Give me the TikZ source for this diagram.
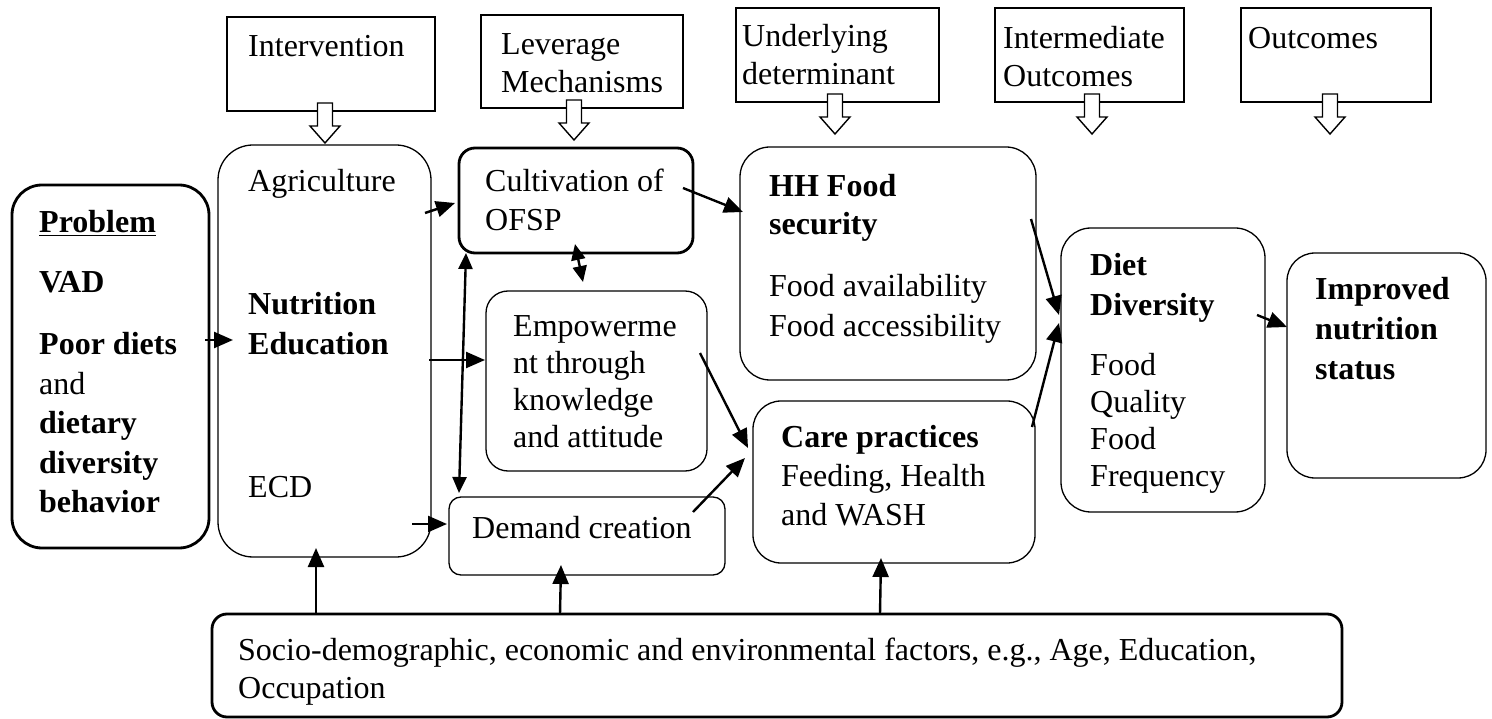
\documentclass[tikz,border=0pt]{standalone}
\usepackage{fontspec}
\setmainfont{Liberation Serif}
\usetikzlibrary{arrows.meta,calc}

% left-aligned block of lines whose baseline is the first line's baseline
\newcommand\linestack[2]{\vtop{\baselineskip=#1pt\lineskiplimit=-\maxdimen\halign{##\hfil\cr#2\crcr}}}

% hollow block arrow hanging below a header box: #1 node, #2 horizontal offset
\newcommand\blockarrow[2]{%
  \draw[blockarr] ($(#1.south)+(#2-7.5,-8)$) -- ++(15,0) -- ++(0,23) -- ++(7.5,0)
    -- ++(-15,17) -- ++(-15,-17) -- ++(7.5,0) -- cycle;}

\tikzset{
  hdr/.style={draw, line width=1.3pt, inner sep=0, outer sep=0},
  rbox/.style={draw, line width=1.3pt, inner sep=0, outer sep=0, rounded corners=#1},
  tbox/.style={draw, line width=2.8pt, inner sep=0, outer sep=0, rounded corners=#1},
  txt/.style={inner sep=0, anchor=base west},
  blockarr/.style={draw, line width=1.4pt, fill=white, line join=miter},
  arr/.style={line width=2.4pt, -{Triangle[length=19pt,width=16pt]}},
  darr/.style={line width=2.4pt, {Triangle[length=16pt,width=14pt]}-{Triangle[length=16pt,width=14pt]}},
}

\begin{document}
\begin{tikzpicture}[x=1pt, y=-1pt, font=\fontsize{32}{37}\selectfont]
\useasboundingbox (0,0) rectangle (1492,719);

% header boxes
\node[hdr, minimum width=208pt, minimum height=94pt] (hInt)  at (331,64)     {};
\node[hdr, minimum width=202pt, minimum height=93pt] (hLev)  at (582,61.5)   {};
\node[hdr, minimum width=203pt, minimum height=94pt] (hUnd)  at (837.5,55)   {};
\node[hdr, minimum width=189pt, minimum height=94pt] (hIntm) at (1089.5,55)  {};
\node[hdr, minimum width=190pt, minimum height=94pt] (hOut)  at (1336,55)    {};

\node[txt] (tInt)  at (248,57)  {Intervention};
\node[txt] (tLev)  at (501,55)  {\linestack{38}{Leverage\cr Mechanisms}};
\node[txt] (tUnd)  at (742,47)  {\linestack{38}{Underlying\cr determinant}};
\node[txt] (tIntm) at (1003,49) {\linestack{38}{Intermediate\cr Outcomes}};
\node[txt] (tOut)  at (1248,49) {Outcomes};

\blockarrow{hInt}{-6}
\blockarrow{hLev}{-8}
\blockarrow{hUnd}{-2.5}
\blockarrow{hIntm}{2.5}
\blockarrow{hOut}{-6}

% main boxes
\node[tbox=30pt, minimum width=197pt, minimum height=363pt] (prob) at (110.5,366.5) {};
\node[rbox=35pt, minimum width=213pt, minimum height=412pt] (agr)  at (324.5,351)   {};
\node[tbox=16pt, minimum width=234pt, minimum height=105pt] (cult) at (576,200.5)   {};
\node[rbox=22pt, minimum width=221pt, minimum height=180pt] (emp)  at (596.5,381)   {};
\node[rbox=12pt, minimum width=276pt, minimum height=78pt]  (dem)  at (587,536)     {};
\node[rbox=30pt, minimum width=296pt, minimum height=233pt] (hh)   at (888,263.5)   {};
\node[rbox=28pt, minimum width=282pt, minimum height=162pt] (care) at (894,482)     {};
\node[rbox=30pt, minimum width=204pt, minimum height=284pt] (diet) at (1163,370)    {};
\node[rbox=28pt, minimum width=199pt, minimum height=225pt] (imp)  at (1386.5,365.5) {};
\node[tbox=15pt, minimum width=1130pt, minimum height=103pt] (socio) at (777,665.5) {};

% box texts
\node[txt] (tProb) at (39,233) {\textbf{\underline{Problem}}};
\node[txt] (tVad)  at (39,293) {\textbf{VAD}};
\node[txt] (tPoor) at (39,355) {\linestack{39.5}{\textbf{Poor diets}\cr and\cr \textbf{dietary}\cr \textbf{diversity}\cr \textbf{behavior}}};

\node[txt] (tAgr) at (248,192) {Agriculture};
\node[txt] (tNut) at (248,315) {\linestack{40}{\textbf{Nutrition}\cr \textbf{Education}}};
\node[txt] (tEcd) at (248,497) {ECD};

\node[txt] (tCult) at (485,192) {\linestack{39}{Cultivation of\cr OFSP}};
\node[txt] (tEmp)  at (513,337) {\linestack{37}{Empowerme\cr nt through\cr knowledge\cr and attitude}};
\node[txt] (tDem)  at (472,538) {Demand creation};

\node[txt] (tHH)   at (769,197) {\linestack{38}{\textbf{HH Food}\cr \textbf{security}}};
\node[txt] (tFood) at (769,297) {\linestack{40}{Food availability\cr Food accessibility}};
\node[txt] (tCare) at (781,447) {\linestack{39}{\textbf{Care practices}\cr Feeding, Health\cr and WASH}};

\node[txt] (tDiet) at (1090,276) {\linestack{40}{\textbf{Diet}\cr \textbf{Diversity}}};
\node[txt] (tQual) at (1090,376) {\linestack{37}{Food\cr Quality\cr Food\cr Frequency}};
\node[txt] (tImp)  at (1315,300) {\linestack{40}{\textbf{Improved}\cr \textbf{nutrition}\cr \textbf{status}}};

\node[txt] (tSoc) at (238,660) {\linestack{38}{Socio-demographic, economic and environmental factors, e.g., Age, Education,\cr Occupation}};

% connectors
\draw[arr] ($(prob.east)+(-4,-26.5)$) -- ($(agr.west)+(15,-11)$);
\draw[arr] ($(agr.north east)+(-6,68)$) -- ($(cult.west)+(-4,2.5)$);
\draw[arr] ($(agr.east)+(-2,9)$) -- ($(emp.west)+(-1,-21)$);
\draw[arr] ($(agr.south east)+(-19,-33)$) -- ($(dem.west)+(-2,-12)$);
\draw[darr] ($(cult.south west)+(7,0)$) -- ($(dem.north west)+(10,-4)$);
\draw[darr] ($(cult.south)+(-1,-9)$) -- ($(emp.north)+(-13.5,-9)$);
\draw[arr] ($(cult.east)+(-10,-12.5)$) -- ($(hh.west)+(3,-51.5)$);
\draw[arr] ($(emp.east)+(-7,-28)$) -- ($(care.west)+(-5,-34)$);
\draw[arr] ($(dem.north east)+(-32,15)$) -- ($(care.west)+(-8,-24)$);
\draw[arr] ($(hh.east)+(-5,-44.5)$) -- ($(diet.west)+(-2,-55)$);
\draw[arr] ($(care.north east)+(-3,26)$) -- ($(diet.west)+(-2,-47)$);
\draw[arr] ($(diet.east)+(-8,-55)$) -- ($(imp.west)+(0,-38.5)$);
\draw[arr] ($(socio.north)+(-461,0)$) -- ($(agr.south)+(-8.5,-9)$);
\draw[arr] ($(socio.north)+(-217,0)$) -- ($(dem.south)+(-26,-10)$);
\draw[arr] ($(socio.north)+(103,0)$) -- ($(care.south)+(-13,-5)$);
\end{tikzpicture}
\end{document}
